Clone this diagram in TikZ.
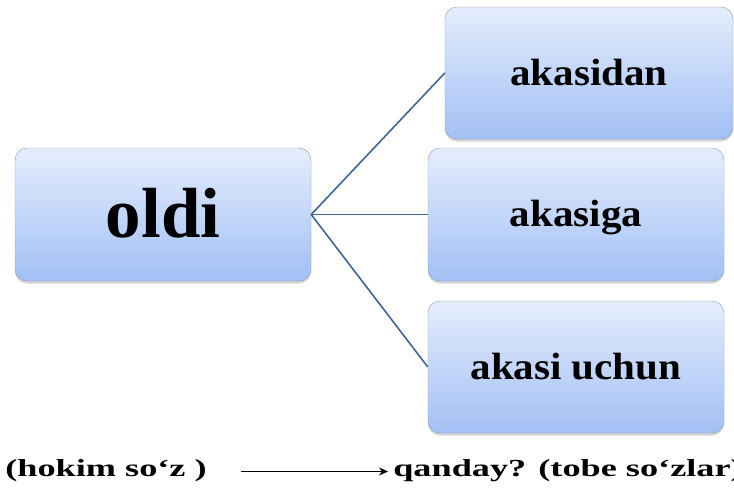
\documentclass[tikz,border=0pt]{standalone}
\usepackage{fontspec}
\setmainfont{Liberation Serif}
\newfontfamily\widefont[FakeStretch=1.48]{Liberation Serif}
\newfontfamily\boxfont[FakeStretch=1.08]{Liberation Serif}
\usetikzlibrary{shadows,arrows.meta}

\definecolor{boxtop}{HTML}{E4EDFC}
\definecolor{boxbot}{HTML}{A2C0F5}
\definecolor{boxedge}{HTML}{8E9DB3}
\definecolor{linkblue}{HTML}{3F6598}

\begin{document}
\begin{tikzpicture}[
     x = 1pt, y = -1pt, % pixel grid, y going down
     > = {Stealth[length = 9pt, width = 8pt, inset = 3pt]}, % arrow head style
     semithick % line style
 ]

 \tikzstyle{word} = [
     draw = boxedge,
     thin,
     rounded corners = 12pt,
     top color = boxtop,
     bottom color = boxbot,
     drop shadow = {opacity = 0.35, shadow xshift = 0pt, shadow yshift = -2.5pt},
     inner sep = 0pt,
     minimum width = 296pt,
     minimum height = 133pt,
     text height = 26pt,
     text depth = 2pt,
     font = \boxfont\fontsize{38}{40}\selectfont\bfseries
 ]
 \tikzstyle{link} = [
     draw = linkblue,
     line width = 1.6pt
 ]
 \tikzstyle{note} = [
     inner sep = 0pt,
     anchor = base west,
     text height = 9pt,
     text depth = 0pt,
     font = \widefont\fontsize{24.5}{26}\selectfont\bfseries
 ]

 \useasboundingbox (0,0) rectangle (734,488);

 \node[word, text height = 48pt, text depth = 3pt,
       font = \fontsize{71}{74}\selectfont\bfseries] (oldi) at (163,214.5) {oldi};
 \node[word, minimum width = 288pt, minimum height = 132pt] (akasidan) at (589,73) {akasidan};
 \node[word] (akasiga) at (576,214.5) {akasiga};
 \node[word, minimum height = 132pt] (uchun) at (576,367) {akasi uchun};

 \path[link] (oldi.east) -- (akasidan.west);
 \path[link] (oldi.east) -- (akasiga.west);
 \path[link] (oldi.east) -- (uchun.west);

 \node[note] (hokim) at (5,476) {(hokim so‘z )};
 \node[note] (qanday) at (393,476) {qanday? (tobe so‘zlar)};

 \draw[->, line width = 1pt, shorten < = 34pt, shorten > = 5pt] (hokim) -- (qanday);
\end{tikzpicture}
\end{document}
